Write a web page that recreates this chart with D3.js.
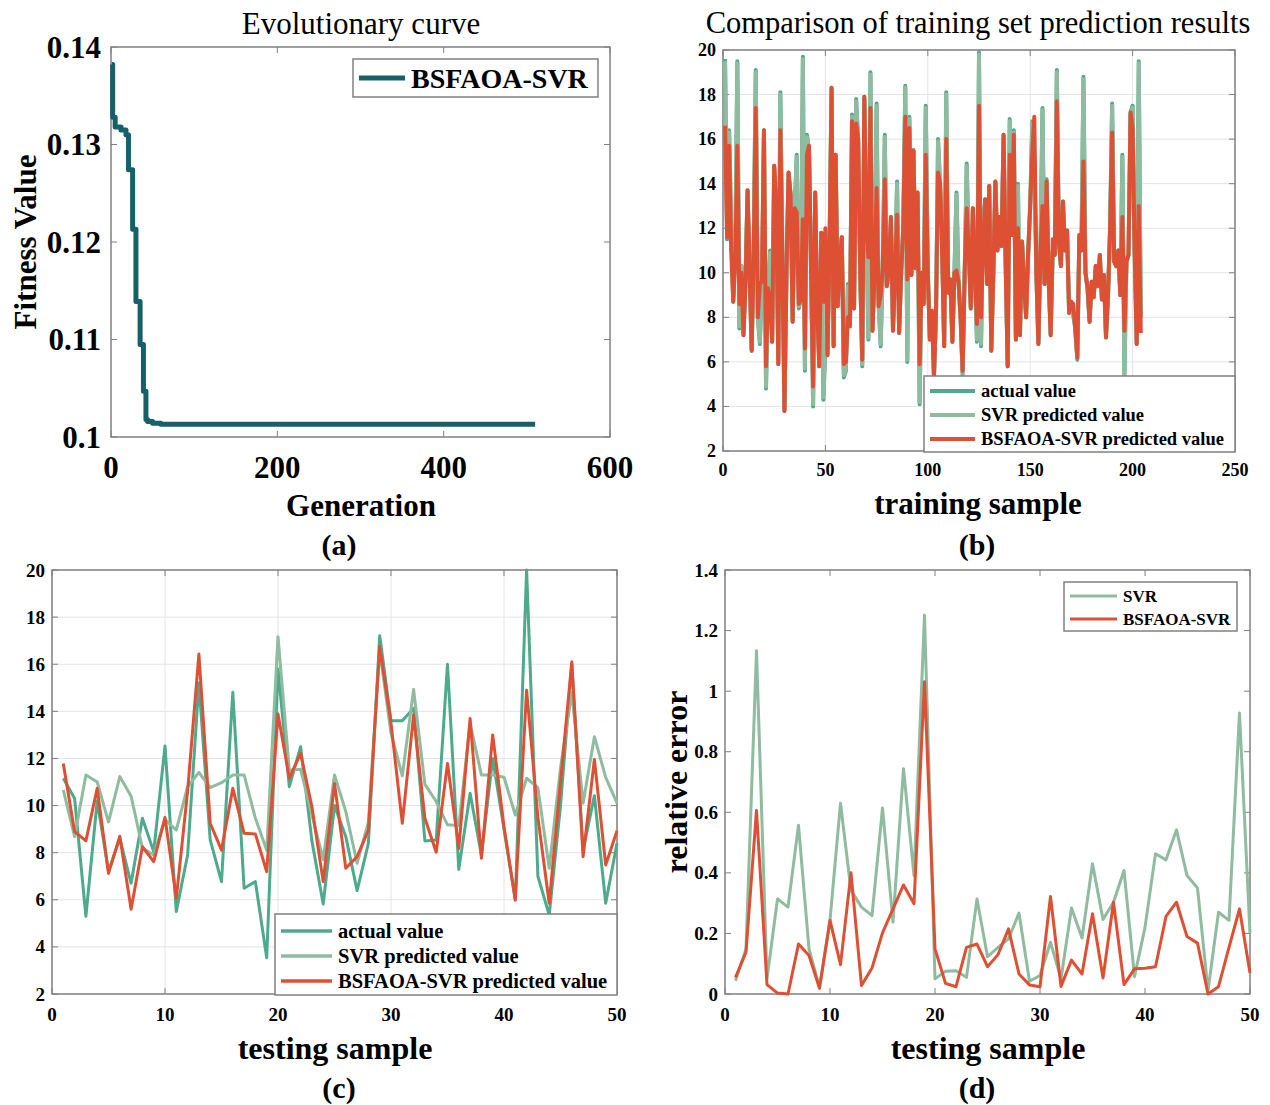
<!DOCTYPE html>
<html>
<head>
<meta charset="utf-8">
<script src="https://cdn.jsdelivr.net/npm/d3@7"></script>
<style>
  body { margin: 0; background: #fff; }
  svg { display: block; }
  text { font-family: "Liberation Serif", "Times New Roman", serif; fill: #000; }
</style>
</head>
<body>
<script>
// ---- data: (a) evolutionary curve (step points) ----
const evoGen = [1, 2, 5, 12, 18, 21, 26, 30, 35, 39, 42, 44, 50, 60, 510];
const evoFit = [0.1382, 0.1328, 0.1318, 0.1315, 0.1310, 0.1274, 0.1213, 0.1139, 0.1095, 0.1047, 0.1018, 0.1016, 0.1014, 0.1013, 0.1013];
const evoXTicks = [0, 200, 400, 600];
const evoYTicks = [0.1, 0.11, 0.12, 0.13, 0.14];

// ---- data: (b) training set ----
const trainActual = [19.6,11.5,16.4,12.0,8.7,11.0,19.5,7.5,10.3,7.2,9.8,13.7,10.2,6.5,11.5,19.1,8.0,6.8,9.6,16.4,
  4.8,9.3,11.0,6.9,14.8,13.0,5.9,18.1,11.0,3.8,10.0,14.5,13.5,7.8,12.9,15.3,8.4,8.8,19.7,5.6,
  16.2,15.5,10.0,4.0,13.6,8.5,5.8,11.8,4.3,6.7,6.3,11.0,18.3,6.7,15.3,8.5,10.5,11.6,5.3,5.6,
  9.5,7.6,17.1,8.4,17.8,16.0,10.0,5.8,17.9,12.0,7.0,19.0,7.4,10.0,17.6,8.5,6.7,10.2,16.2,9.4,
  10.0,12.5,7.4,10.0,14.1,7.3,10.0,12.0,18.4,6.0,17.0,9.9,15.5,10.2,13.6,4.1,10.0,8.6,17.5,10.0,
  7.0,8.3,5.3,8.0,16.0,14.0,11.0,6.7,18.1,9.1,9.7,6.9,10.0,13.6,9.6,8.0,5.4,10.0,14.9,11.0,
  8.4,12.9,10.0,6.9,19.9,6.7,12.2,13.3,9.5,13.9,6.5,10.0,14.1,11.0,12.5,11.2,16.2,10.5,5.8,16.9,
  11.7,16.4,7.0,14.0,7.2,11.4,9.5,8.0,10.9,13.0,16.8,15.2,10.0,6.8,11.0,17.4,9.5,14.2,9.7,7.2,
  11.0,10.8,19.1,11.4,10.3,13.2,11.0,11.9,8.2,8.7,8.1,7.5,6.1,11.7,11.0,18.8,10.0,9.3,7.8,9.6,
  8.9,10.3,9.4,10.8,8.8,9.9,7.1,9.0,12.0,17.6,10.5,10.3,11.0,9.0,15.3,5.3,10.5,10.8,17.2,17.5,
  11.0,6.8,19.5,8.0];
const trainSVR = [19.5,11.6,16.3,12.0,8.8,11.0,19.4,7.6,10.3,7.3,9.8,13.6,10.2,6.6,11.5,19.0,8.0,6.9,9.6,16.3,
  4.9,9.3,10.9,7.0,14.7,13.0,6.0,18.0,11.0,3.9,10.0,14.4,13.5,7.9,12.9,15.2,8.5,8.8,19.6,5.7,
  16.1,15.5,10.0,4.1,13.5,8.5,5.9,11.8,4.4,6.8,6.4,11.0,18.2,6.8,15.2,8.6,10.5,11.6,5.4,5.7,
  9.4,7.7,17.0,8.5,17.7,15.9,10.0,5.9,17.8,12.0,7.1,18.9,7.5,10.0,17.5,8.6,6.8,10.2,16.1,9.4,
  10.0,12.4,7.5,10.0,14.0,7.4,10.0,12.0,18.3,6.1,16.9,9.9,15.4,10.2,13.5,4.2,10.0,8.7,17.4,10.0,
  7.1,8.3,5.4,8.0,15.9,13.9,11.0,6.8,18.0,9.1,9.7,7.0,10.0,13.5,9.6,8.0,5.5,10.0,14.8,11.0,
  8.5,12.8,10.0,7.0,19.8,6.8,12.1,13.2,9.6,13.8,6.6,10.0,14.0,11.0,12.4,11.2,16.1,10.5,5.9,16.8,
  11.7,16.3,7.1,13.9,7.3,11.4,9.5,8.1,10.9,12.9,16.7,15.1,10.0,6.9,11.0,17.3,9.5,14.1,9.7,7.3,
  11.0,10.8,19.0,11.4,10.3,13.1,11.0,11.8,8.3,8.7,8.2,7.6,6.2,11.6,11.0,18.7,10.0,9.3,7.9,9.6,
  8.9,10.3,9.4,10.7,8.9,9.9,7.2,9.0,11.9,17.5,10.5,10.3,11.0,9.0,15.2,5.4,10.5,10.8,17.1,17.4,
  11.0,6.9,19.4,8.0];
const trainBSFAOA = [16.6,11.6,15.7,11.0,8.7,10.5,15.7,8.6,10.0,7.2,9.5,13.7,10.0,6.5,11.0,17.4,8.0,9.5,9.6,16.4,
  5.8,9.3,8.7,6.9,14.8,13.0,5.9,16.4,10.5,3.8,10.0,14.5,13.5,7.8,12.9,12.7,8.6,8.8,12.4,6.6,
  15.3,15.7,10.0,4.9,13.6,8.5,5.8,11.8,8.7,12.0,6.3,11.0,18.3,6.7,15.3,8.5,10.5,11.6,5.9,6.0,
  8.0,7.6,16.8,8.4,16.7,16.0,10.0,6.1,17.9,12.0,10.7,17.4,7.4,10.0,13.8,8.5,9.0,10.2,14.2,9.4,
  10.2,12.5,7.4,10.0,12.6,7.3,10.0,12.0,17.0,9.7,16.5,9.9,15.5,10.2,13.6,5.9,10.0,8.6,15.3,10.0,
  7.0,8.3,5.3,8.3,14.5,14.0,11.0,6.7,16.0,9.1,9.7,6.9,10.0,10.1,9.6,8.0,5.6,10.0,12.9,11.0,
  8.4,12.9,10.0,7.7,17.5,8.0,11.0,13.3,9.5,13.9,6.5,10.0,14.1,11.0,12.5,11.2,16.2,10.5,5.8,15.3,
  11.7,16.2,7.0,12.0,7.2,11.4,9.5,8.0,10.9,13.0,15.4,17.0,10.0,6.8,11.0,13.0,9.5,14.1,9.7,7.2,
  11.5,10.8,17.7,11.4,10.3,13.2,11.0,11.9,8.2,8.7,8.6,7.5,6.2,11.7,11.0,15.0,10.0,9.3,7.8,9.6,
  8.9,10.3,9.4,10.8,8.8,9.9,7.1,9.0,12.0,16.3,10.5,10.3,11.0,9.0,12.5,7.4,10.5,10.8,17.2,16.5,
  11.0,6.8,13.0,7.3];
const trainXTicks = [0, 50, 100, 150, 200, 250];
const valueTicks = [2, 4, 6, 8, 10, 12, 14, 16, 18, 20];

// ---- data: (c) testing set ----
const testActual = [11.16,10.3,5.3,10.2,7.2,8.6,6.7,9.46,8.04,12.53,5.5,7.9,15.2,8.54,6.77,14.81,6.49,6.77,3.54,15.8,
  10.8,12.5,8.5,5.82,10.0,8.68,6.39,8.4,17.21,13.6,13.6,14.13,8.5,8.54,16.0,7.29,10.52,7.9,12.0,9.0,
  5.99,20.0,7.0,5.35,10.0,16.0,8.11,10.42,5.85,8.4];
const testSVR = [10.66,8.68,11.3,11.0,9.3,11.23,10.4,8.2,7.9,9.4,8.96,10.8,11.41,10.76,10.97,11.3,11.3,9.46,8.1,17.17,
  11.5,11.54,9.6,7.7,11.3,9.74,7.55,9.3,16.6,13.07,11.26,14.93,10.9,10.17,9.18,9.15,13.49,11.3,11.3,11.2,
  9.6,11.16,10.76,7.34,11.6,14.8,10.1,12.92,11.2,10.1];
const testBSFAOA = [11.79,8.89,8.5,10.73,7.12,8.7,5.6,8.25,7.62,9.5,6.06,10.6,16.43,9.25,8.11,10.73,8.82,8.79,7.19,13.89,
  11.16,12.22,9.95,6.77,10.94,7.34,7.83,8.96,16.75,13.49,9.25,13.84,9.46,8.02,11.79,8.18,13.7,7.76,13.0,9.1,
  5.99,14.9,9.5,5.85,11.0,16.1,7.83,11.96,7.48,8.93];
const testXTicks = [0, 10, 20, 30, 40, 50];

// ---- data: (d) relative error ----
const errSVR = [0.044,0.149,1.133,0.05,0.314,0.287,0.557,0.149,0.022,0.243,0.63,0.342,0.287,0.259,0.614,0.237,0.744,0.391,1.251,0.05,
  0.075,0.077,0.055,0.314,0.123,0.154,0.182,0.267,0.042,0.061,0.171,0.05,0.284,0.185,0.43,0.246,0.303,0.408,0.057,0.22,
  0.463,0.443,0.542,0.391,0.35,0.011,0.27,0.243,0.928,0.2];
const errBSFAOA = [0.055,0.138,0.606,0.031,0.003,0.0,0.165,0.127,0.019,0.243,0.097,0.40,0.028,0.086,0.202,0.281,0.36,0.298,1.031,0.149,
  0.035,0.024,0.154,0.165,0.09,0.13,0.215,0.066,0.03,0.024,0.322,0.025,0.112,0.066,0.265,0.053,0.303,0.031,0.083,0.085,
  0.09,0.256,0.303,0.19,0.168,0.0,0.024,0.154,0.281,0.069];
const errYTicks = [0, 0.2, 0.4, 0.6, 0.8, 1, 1.2, 1.4];

const cActual = '#4daa8c', cSVR = '#8fbb9e', cBS = '#de5034', cEvo = '#166069';
const frameColor = '#808080', gridColor = '#e4e4e4';

let svg = d3.select('body').append('svg').attr('width', 1270).attr('height', 1105);

function fmt(v) { return String(+v.toFixed(3)); }

// draws box, grid, inward ticks on all sides, tick labels
function frame(p) {
    let g = svg.append('g');
    let [x0, x1] = p.x.range(), [y0, y1] = p.y.range(); // y0 bottom, y1 top
    if (p.grid) {
        g.selectAll('.gx').data(p.xt).enter().append('line')
            .attr('x1', d => p.x(d)).attr('x2', d => p.x(d)).attr('y1', y0).attr('y2', y1)
            .attr('stroke', gridColor).attr('stroke-width', 1);
        g.selectAll('.gy').data(p.yt).enter().append('line')
            .attr('y1', d => p.y(d)).attr('y2', d => p.y(d)).attr('x1', x0).attr('x2', x1)
            .attr('stroke', gridColor).attr('stroke-width', 1);
    }
    let t = 6;
    p.xt.forEach(d => {
        g.append('line').attr('x1', p.x(d)).attr('x2', p.x(d)).attr('y1', y0).attr('y2', y0 - t).attr('stroke', frameColor);
        g.append('line').attr('x1', p.x(d)).attr('x2', p.x(d)).attr('y1', y1).attr('y2', y1 + t).attr('stroke', frameColor);
        g.append('text').attr('x', p.x(d)).attr('y', y0 + p.xlOff)
            .attr('text-anchor', 'middle').attr('dominant-baseline', 'central')
            .style('font-size', p.fs + 'px').style('font-weight', 'bold').text(fmt(d));
    });
    p.yt.forEach(d => {
        g.append('line').attr('y1', p.y(d)).attr('y2', p.y(d)).attr('x1', x0).attr('x2', x0 + t).attr('stroke', frameColor);
        g.append('line').attr('y1', p.y(d)).attr('y2', p.y(d)).attr('x1', x1).attr('x2', x1 - t).attr('stroke', frameColor);
        g.append('text').attr('x', x0 - p.ylOff).attr('y', p.y(d))
            .attr('text-anchor', 'end').attr('dominant-baseline', 'central')
            .style('font-size', p.fs + 'px').style('font-weight', 'bold').text(fmt(d));
    });
    g.append('rect').attr('x', x0).attr('y', y1).attr('width', x1 - x0).attr('height', y0 - y1)
        .attr('fill', 'none').attr('stroke', frameColor).attr('stroke-width', 1.5);
    return g;
}

function label(txt, x, y, size, opts) {
    opts = opts || {};
    let t = svg.append('text').attr('x', x).attr('y', y)
        .attr('text-anchor', 'middle').attr('dominant-baseline', 'central')
        .style('font-size', size + 'px').style('font-weight', opts.normal ? 'normal' : 'bold').text(txt);
    if (opts.rotate) t.attr('transform', 'rotate(-90,' + x + ',' + y + ')');
    return t;
}

function legend(box, items, lineLen, fs, lw) {
    svg.append('rect').attr('x', box[0]).attr('y', box[1]).attr('width', box[2]).attr('height', box[3])
        .attr('fill', '#fff').attr('stroke', frameColor).attr('stroke-width', 1.5);
    items.forEach((it, i) => {
        let y = it.y;
        svg.append('line').attr('x1', box[0] + 6).attr('x2', box[0] + 6 + lineLen).attr('y1', y).attr('y2', y)
            .attr('stroke', it.color).attr('stroke-width', lw);
        svg.append('text').attr('x', box[0] + 12 + lineLen).attr('y', y).attr('dominant-baseline', 'central')
            .style('font-size', fs + 'px').style('font-weight', 'bold').text(it.name);
    });
}

function series(p, xs, ys, color, w, curve) {
    let line = d3.line().x((d, i) => p.x(xs[i])).y(d => p.y(d)).curve(curve || d3.curveLinear);
    svg.append('path').datum(ys).attr('d', line).attr('fill', 'none')
        .attr('stroke', color).attr('stroke-width', w).attr('stroke-linejoin', 'round');
}

// ---------- (a) ----------
let pa = {
    x: d3.scaleLinear().domain([0, 600]).range([111, 610]),
    y: d3.scaleLinear().domain([0.1, 0.14]).range([437, 47]),
    xt: evoXTicks, yt: evoYTicks, fs: 31, xlOff: 30, ylOff: 10, grid: false
};
frame(pa);
series(pa, evoGen, evoFit, cEvo, 5, d3.curveStepAfter);
legend([353, 59, 245, 38], [{name: 'BSFAOA-SVR', color: cEvo, y: 78}], 46, 28, 5);
label('Evolutionary curve', 361, 23, 31, {normal: true});
label('Generation', 361, 505, 31);
label('Fitness Value', 25, 242, 31, {rotate: true});
label('(a)', 339, 544, 30);

// ---------- (b) ----------
let trainIdx = d3.range(1, trainActual.length + 1);
let pb = {
    x: d3.scaleLinear().domain([0, 250]).range([723, 1235]),
    y: d3.scaleLinear().domain([2, 20]).range([451, 50]),
    xt: trainXTicks, yt: valueTicks, fs: 18, xlOff: 19, ylOff: 7, grid: true
};
frame(pb);
series(pb, trainIdx, trainActual, cActual, 4);
series(pb, trainIdx, trainSVR, cSVR, 4);
series(pb, trainIdx, trainBSFAOA, cBS, 4);
legend([924, 376, 311, 76], [
    {name: 'actual value', color: cActual, y: 391},
    {name: 'SVR predicted value', color: cSVR, y: 415},
    {name: 'BSFAOA-SVR predicted value', color: cBS, y: 439}
], 45, 18.5, 4);
label('Comparison of training set prediction results', 978, 23, 30.5, {normal: true});
label('training sample', 978, 503, 31);
label('(b)', 977, 544, 30);

// ---------- (c) ----------
let testIdx = d3.range(1, testActual.length + 1);
let pc = {
    x: d3.scaleLinear().domain([0, 50]).range([52, 617]),
    y: d3.scaleLinear().domain([2, 20]).range([994, 570]),
    xt: testXTicks, yt: valueTicks, fs: 19, xlOff: 20, ylOff: 7, grid: true
};
frame(pc);
series(pc, testIdx, testActual, cActual, 3);
series(pc, testIdx, testSVR, cSVR, 3);
series(pc, testIdx, testBSFAOA, cBS, 3);
legend([275, 914, 342, 81], [
    {name: 'actual value', color: cActual, y: 931},
    {name: 'SVR predicted value', color: cSVR, y: 956},
    {name: 'BSFAOA-SVR predicted value', color: cBS, y: 981}
], 51, 20.5, 3.5);
label('testing sample', 335, 1048, 32);
label('(c)', 339, 1087, 30);

// ---------- (d) ----------
let pd = {
    x: d3.scaleLinear().domain([0, 50]).range([725, 1250]),
    y: d3.scaleLinear().domain([0, 1.4]).range([994, 570]),
    xt: testXTicks, yt: errYTicks, fs: 19, xlOff: 20, ylOff: 7, grid: false
};
frame(pd);
series(pd, testIdx, errSVR, cSVR, 3);
series(pd, testIdx, errBSFAOA, cBS, 3);
legend([1064, 582, 173, 49], [
    {name: 'SVR', color: cSVR, y: 596},
    {name: 'BSFAOA-SVR', color: cBS, y: 619}
], 47, 17, 3);
label('testing sample', 988, 1048, 32);
label('relative error', 676, 782, 32, {rotate: true});
label('(d)', 977, 1087, 30);
</script>
</body>
</html>
